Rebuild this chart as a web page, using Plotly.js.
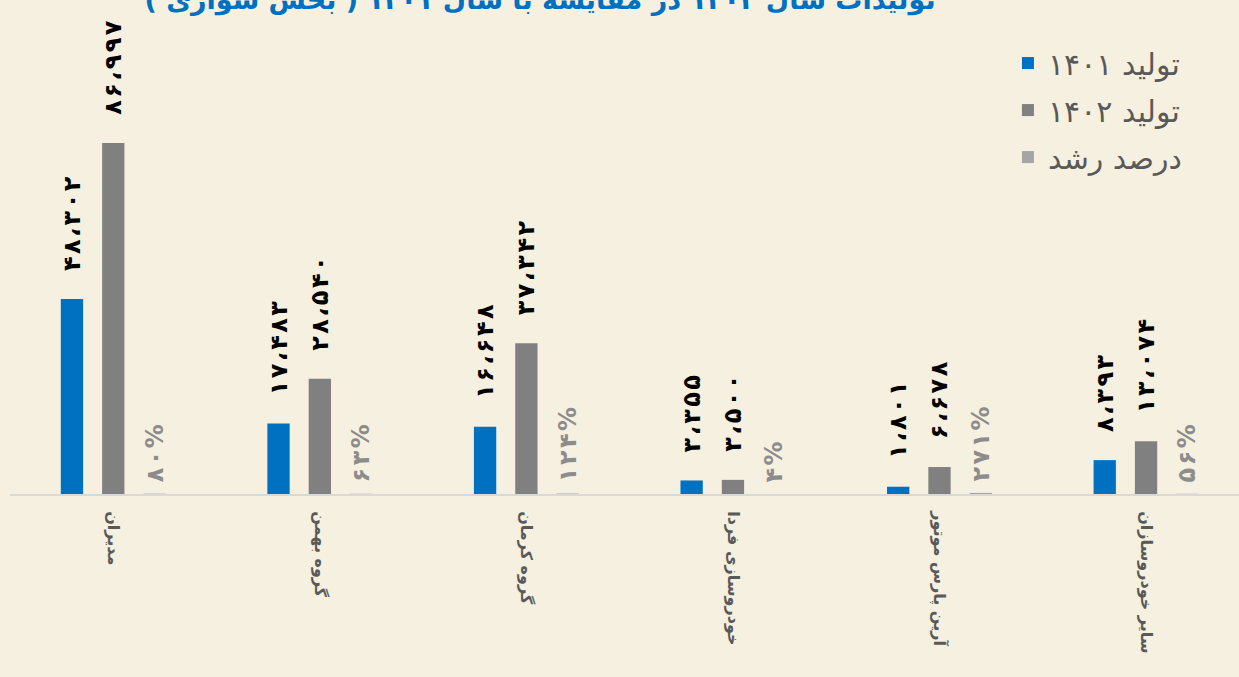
<!DOCTYPE html>
<html>
<head>
<meta charset="utf-8">
<script src="https://cdn.plot.ly/plotly-3.0.1.min.js"></script>
<style>
  html, body { margin: 0; padding: 0; background: #F5F0DF; }
  #chart { width: 1239px; height: 677px; }
</style>
</head>
<body>
<div id="chart"></div>
<script>
// شرکت‌ها
const CATEGORIES = ["مدیران", "گروه بهمن", "گروه کرمان", "خودروسازی فردا", "آرین پارس موتور", "سایر خودروسازان"];

// تولید ۱۴۰۱ و ۱۴۰۲
const PROD_1401 = [48302, 17483, 16648, 3355, 1801, 8393];
const PROD_1402 = [86997, 28540, 37342, 3500, 6678, 13074];

// درصد رشد
const GROWTH = [80, 63, 124, 4, 271, 56];

const SERIES_NAMES = ["تولید ۱۴۰۱", "تولید ۱۴۰۲", "درصد رشد"];
const TITLE_TEXT = "\u202Bتولیدات سال ۱۴۰۲ در مقایسه با سال ۱۴۰۱ ( بخش سواری )\u202C";

const FA_DIGITS = "۰۱۲۳۴۵۶۷۸۹";
function toFa(n) {
     const s = n.toString().replace(/\B(?=(\d{3})+(?!\d))/g, "،");
     return s.replace(/\d/g, d => FA_DIGITS[+d]);
}
// کمی فاصله بین حروف برچسب‌ها
function spaced(s) {
     return s.split("").join("\u200A");
}

const PAD_VAL = "\u00a0\u00a0\u00a0";
const PAD_PCT = "\u00a0";
const FONT = "DejaVu Sans, sans-serif";

const valueFont = { family: FONT, size: 24, color: "#000000", weight: "bold" };

const DATA = [
     {
          type: "bar",
          name: SERIES_NAMES[0],
          legendgroup: "a",
          x: CATEGORIES,
          y: PROD_1401,
          text: PROD_1401.map(v => PAD_VAL + spaced(toFa(v))),
          textposition: "outside",
          textangle: -90,
          textfont: valueFont,
          constraintext: "none",
          cliponaxis: false,
          hoverinfo: "skip",
          marker: { color: "#0070C0" }
     },
     {
          type: "bar",
          name: SERIES_NAMES[1],
          legendgroup: "b",
          x: CATEGORIES,
          y: PROD_1402,
          text: PROD_1402.map(v => PAD_VAL + spaced(toFa(v))),
          textposition: "outside",
          textangle: -90,
          textfont: valueFont,
          constraintext: "none",
          cliponaxis: false,
          hoverinfo: "skip",
          marker: { color: "#808080" }
     },
     {
          type: "bar",
          name: SERIES_NAMES[2],
          legendgroup: "c",
          x: CATEGORIES,
          y: GROWTH,
          text: GROWTH.map(v => PAD_PCT + spaced(toFa(v) + "%")),
          textposition: "outside",
          textangle: -90,
          textfont: { family: FONT, size: 24, color: "#8C8C8C", weight: "bold" },
          constraintext: "none",
          cliponaxis: false,
          hoverinfo: "skip",
          marker: { color: "#A5A5A5" }
     }
];

const LAYOUT = {
     width: 1239,
     height: 677,
     paper_bgcolor: "#F5F0DF",
     plot_bgcolor: "#F5F0DF",
     margin: { l: 10, r: 0, t: 0, b: 183 },
     barmode: "group",
     bargap: 0.40,
     bargroupgap: 0.46,
     showlegend: true,
     title: {
          text: TITLE_TEXT,
          font: { family: FONT, size: 27, color: "#0070C0", weight: "bold" },
          x: 540 / 1239,
          xref: "container",
          xanchor: "center",
          y: 1.008,
          yref: "container",
          yanchor: "middle"
     },
     legend: {
          x: 0.812,
          y: 0.925,
          xanchor: "left",
          yanchor: "top",
          traceorder: "grouped",
          tracegroupgap: 5,
          bgcolor: "rgba(0,0,0,0)",
          font: { family: FONT, size: 30, color: "#595959" },
          itemclick: false
     },
     xaxis: {
          type: "category",
          range: [-0.5, 5.45],
          tickangle: 90,
          ticks: "",
          ticklabelstandoff: 12,
          tickfont: { family: FONT, size: 16, color: "#595959", weight: "bold" },
          showline: true,
          linecolor: "#D9D9D9",
          linewidth: 2,
          showgrid: false,
          zeroline: false
     },
     yaxis: {
          range: [0, 122400],
          showticklabels: false,
          showgrid: false,
          zeroline: false,
          showline: false
     }
};

Plotly.newPlot("chart", DATA, LAYOUT, { displayModeBar: false, staticPlot: true });
</script>
</body>
</html>
